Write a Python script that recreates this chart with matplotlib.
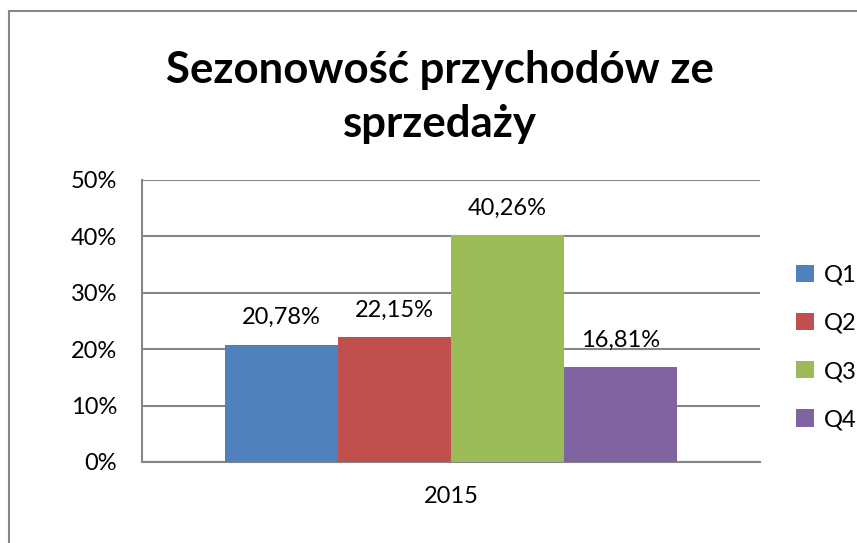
import matplotlib
matplotlib.use("Agg")
import matplotlib.pyplot as plt
from matplotlib.patches import Rectangle
from matplotlib.ticker import FuncFormatter

title = "Sezonowość przychodów ze\nsprzedaży"
category = "2015"
series = ["Q1", "Q2", "Q3", "Q4"]
values = [0.2078, 0.2215, 0.4026, 0.1681]
labels = ["20,78%", "22,15%", "40,26%", "16,81%"]
colors = ["#4F81BD", "#C0504D", "#9BBB59", "#8064A2"]
yticks = [0, 0.1, 0.2, 0.3, 0.4, 0.5]

plt.rcParams['font.family'] = ['Lato', 'DejaVu Sans']
FS = 17

W, H = 857, 543
fig = plt.figure(figsize=(W / 100, H / 100), dpi=100)
ax = fig.add_axes([142 / W, 1 - 462 / H, (760 - 142) / W, (462 - 180) / H])

bw = 113 / 618
n = len(series)
for i, (s, v, lab, c) in enumerate(zip(series, values, labels, colors)):
    x = (i - (n - 1) / 2) * bw
    ax.bar(x, v, width=bw, color=c, label=s, zorder=3)
    ax.annotate(lab, (x, v), xytext=(0, 19.5), textcoords="offset points",
                ha="center", va="center", fontsize=FS, color="#000000")

ax.set_xlim(-0.5, 0.5)
ax.set_ylim(0, 0.5)
ax.set_yticks(yticks)
ax.yaxis.set_major_formatter(FuncFormatter(lambda v, p: f"{v*100:.0f}%"))
ax.set_xticks([0])
ax.set_xticklabels([category])
ax.tick_params(axis="y", length=0, pad=18, labelsize=FS)
ax.tick_params(axis="x", length=0, pad=17, labelsize=FS)
ax.grid(axis="y", color="#868686", linewidth=1.5, zorder=0)
for side in ["top", "right"]:
    ax.spines[side].set_visible(False)
for side in ["left", "bottom"]:
    ax.spines[side].set_color("#868686")
    ax.spines[side].set_linewidth(1.5)

fig.legend(loc="center left", bbox_to_anchor=(796 / W, 1 - 347.5 / H),
           bbox_transform=fig.transFigure, frameon=False, fontsize=FS,
           handlelength=0.75, handleheight=0.75, handletextpad=0.45,
           labelspacing=1.15, borderpad=0, borderaxespad=0)

fig.text(0.513, 1 - 97 / H, title, ha="center", va="center", fontsize=31.5,
         fontweight="bold", linespacing=1.42)

fig.patches.append(Rectangle((8.5 / W, -0.1), 1.2, 0.1 + 1 - 11 / H,
                             transform=fig.transFigure, fill=False,
                             edgecolor="#888888", linewidth=1.5))

fig.savefig("out.png", dpi=100)
